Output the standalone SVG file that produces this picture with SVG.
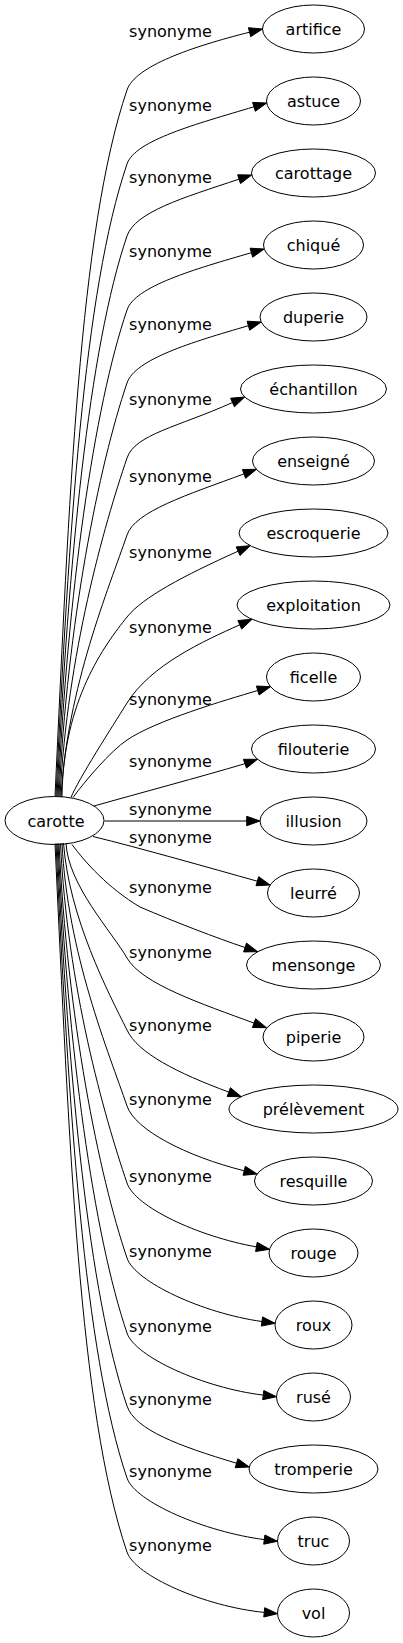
<svg xmlns="http://www.w3.org/2000/svg" width="403" height="1643" viewBox="0 0 403 1643">
<style>
  .node ellipse { fill: none; stroke: #000; stroke-width: 1; }
  text { font-family: "DejaVu Sans", "Liberation Sans", sans-serif; font-size: 16px; fill: #000; text-anchor: middle; }
  .edge path { fill: none; stroke: #000; stroke-width: 1; }
  .edge polygon { fill: #000; stroke: #000; stroke-width: 1; }
</style>
<rect width="403" height="1643" fill="#fff"/>
<g id="edges">
  <g class="edge" id="e-artifice"><path d="M55,796.5 C69.1,499.8 79,231.3 127,90 C135,66.3 191.4,46.8 249.6,32.2"/><polygon points="250.7,36.7 262.5,29 248.4,27.7"/><text x="170.5" y="37">synonyme</text></g>
  <g class="edge" id="e-astuce"><path d="M56,796.5 C68.7,530.8 84,290.5 127,164 C135,140.3 196.4,124 253.9,106.8"/><polygon points="255.3,111.3 266.7,103 252.6,102.4"/><text x="170.5" y="111">synonyme</text></g>
  <g class="edge" id="e-carottage"><path d="M57,796.5 C68.2,561.1 88.9,348.1 127,236 C135,212.3 182,198 239,179.2"/><polygon points="240.5,183.6 251.7,175 237.6,174.8"/><text x="170.5" y="183">synonyme</text></g>
  <g class="edge" id="e-chique"><path d="M58,796.5 C67.7,592.2 93.9,407.3 127,310 C135,286.3 193.8,269.4 251.4,252.7"/><polygon points="252.7,257.2 264.2,249 250.1,248.2"/><text x="170.5" y="257">synonyme</text></g>
  <g class="edge" id="e-duperie"><path d="M59,796.5 C67.3,622.8 98.9,465.7 127,383 C135,359.3 190.8,342.4 248.4,325.7"/><polygon points="249.7,330.2 261.2,322 247.1,321.2"/><text x="170.5" y="330">synonyme</text></g>
  <g class="edge" id="e-echantillon"><path d="M60,796.5 C67.3,654.3 104,525.7 127,458 C135,434.3 177.8,427.1 232.5,402.5"/><polygon points="234.4,406.8 244.7,397 230.6,398.2"/><text x="170.5" y="405">synonyme</text></g>
  <g class="edge" id="e-enseigne"><path d="M61,797 C67.2,687 109.2,587.4 127,535 C135,511.3 187.7,494.7 244,473.9"/><polygon points="245.6,478.3 256.5,469.3 242.4,469.5"/><text x="170.5" y="482">synonyme</text></g>
  <g class="edge" id="e-escroquerie"><path d="M62,797 C63,700 105.3,644.3 127,617 C142.5,597.5 183.4,575.8 238.1,551.2"/><polygon points="240,555.5 250.3,545.7 236.2,546.9"/><text x="170.5" y="558">synonyme</text></g>
  <g class="edge" id="e-exploitation"><path d="M71,797.4 C78,780 112,727 127,703 C150.9,664.8 203.3,641.2 239.8,624.8"/><polygon points="241.7,629.1 252,619.3 237.9,620.5"/><text x="170.5" y="633">synonyme</text></g>
  <g class="edge" id="e-ficelle"><path d="M73,797.5 C85,781 110.4,751.2 127,740 C156,720.4 224.2,700.5 257.7,690.5"/><polygon points="259.1,695 270.5,686.7 256.4,686"/><text x="170.5" y="704.5">synonyme</text></g>
  <g class="edge" id="e-filouterie"><path d="M94,806 C140,793 200,777 244.9,763.7"/><polygon points="246.5,768.1 257.5,759.3 243.4,759.3"/><text x="170.5" y="766.5">synonyme</text></g>
  <g class="edge" id="e-illusion"><path d="M104.5,821 L246.7,821"/><polygon points="246.7,825.7 260,821 246.7,816.3"/><text x="170.5" y="814.5">synonyme</text></g>
  <g class="edge" id="e-leurre"><path d="M93,836.5 C140,848 210,868 257.3,881.2"/><polygon points="256,885.7 270.1,885 258.7,876.7"/><text x="170.5" y="842.5">synonyme</text></g>
  <g class="edge" id="e-mensonge"><path d="M72,844.5 C85,862 108,888 140,907 C175,922 216.5,938 245,947.5"/><polygon points="243.6,951.9 257.7,951.7 246.5,943.1"/><text x="170.5" y="893">synonyme</text></g>
  <g class="edge" id="e-piperie"><path d="M66,843 C68,885 112,931.9 127,958 C142,984.1 202.4,1004 254,1023.1"/><polygon points="252.4,1027.5 266.5,1027.7 255.6,1018.7"/><text x="170.5" y="957.5">synonyme</text></g>
  <g class="edge" id="e-prelevement"><path d="M63.5,843 C69.1,917.8 108.3,992.6 127,1030 C137.5,1052.8 177.2,1073 228.8,1092.1"/><polygon points="227.2,1096.5 241.3,1096.7 230.4,1087.7"/><text x="170.5" y="1031">synonyme</text></g>
  <g class="edge" id="e-resquille"><path d="M62,843 C67.3,953.5 109.1,1053.4 127,1106 C135,1129.8 186,1156.2 244.2,1170.8"/><polygon points="243.1,1175.3 257.1,1174 245.3,1166.3"/><text x="170.5" y="1105">synonyme</text></g>
  <g class="edge" id="e-rouge"><path d="M60.5,843.5 C67.3,986.1 103.9,1115.1 127,1183 C135,1206.8 197.4,1236.3 256.4,1246.9"/><polygon points="255.6,1251.5 269.5,1249.3 257.2,1242.3"/><text x="170.5" y="1182">synonyme</text></g>
  <g class="edge" id="e-roux"><path d="M59,843.5 C67.3,1017.6 98.8,1175.1 127,1258 C135,1281.8 202.5,1313.2 261.9,1321.5"/><polygon points="261.3,1326.1 275.1,1323.3 262.6,1316.9"/><text x="170.5" y="1257">synonyme</text></g>
  <g class="edge" id="e-ruse"><path d="M58,843.5 C67.8,1049.1 93.7,1235.1 127,1333 C135,1356.8 203.7,1388 263.3,1395.1"/><polygon points="262.7,1399.7 276.5,1396.7 263.8,1390.5"/><text x="170.5" y="1332">synonyme</text></g>
  <g class="edge" id="e-tromperie"><path d="M57,843.5 C68.3,1079.8 88.7,1293.5 127,1406 C135,1429.8 179,1446 236.5,1463.2"/><polygon points="235.2,1467.7 249.3,1467 237.9,1458.7"/><text x="170.5" y="1405">synonyme</text></g>
  <g class="edge" id="e-truc"><path d="M56,843.5 C68.7,1110 83.9,1351.1 127,1478 C135,1501.8 204.8,1531.9 264.3,1539.6"/><polygon points="263.7,1544.2 277.5,1541.3 264.9,1535"/><text x="170.5" y="1477">synonyme</text></g>
  <g class="edge" id="e-vol"><path d="M55,843.5 C69.2,1141.1 78.8,1410.3 127,1552 C135,1575.8 204.5,1606.4 264.2,1612.4"/><polygon points="263.8,1617 277.5,1613.7 264.7,1607.7"/><text x="170.5" y="1551">synonyme</text></g>
</g>
<g class="node" id="node-carotte"><ellipse cx="54.5" cy="820.5" rx="49.5" ry="24"/><text x="56" y="826.5">carotte</text></g>
<g class="node" id="node-artifice"><ellipse cx="313.5" cy="29" rx="51" ry="24"/><text x="313.5" y="34.5">artifice</text></g>
<g class="node" id="node-astuce"><ellipse cx="313.5" cy="101" rx="47" ry="24"/><text x="313.5" y="106.5">astuce</text></g>
<g class="node" id="node-carottage"><ellipse cx="313.5" cy="173" rx="62" ry="24"/><text x="313.5" y="178.5">carottage</text></g>
<g class="node" id="node-chique"><ellipse cx="313.5" cy="245" rx="50" ry="24"/><text x="313.5" y="250.5">chiqué</text></g>
<g class="node" id="node-duperie"><ellipse cx="313.5" cy="317" rx="53.5" ry="24"/><text x="313.5" y="322.5">duperie</text></g>
<g class="node" id="node-echantillon"><ellipse cx="313.5" cy="389" rx="73" ry="24"/><text x="313.5" y="394.5">échantillon</text></g>
<g class="node" id="node-enseigne"><ellipse cx="313.5" cy="461" rx="61" ry="24"/><text x="313.5" y="466.5">enseigné</text></g>
<g class="node" id="node-escroquerie"><ellipse cx="313.5" cy="533" rx="74.5" ry="24"/><text x="313.5" y="538.5">escroquerie</text></g>
<g class="node" id="node-exploitation"><ellipse cx="313.5" cy="605" rx="76.5" ry="24"/><text x="313.5" y="610.5">exploitation</text></g>
<g class="node" id="node-ficelle"><ellipse cx="313.5" cy="677" rx="47" ry="24"/><text x="313.5" y="682.5">ficelle</text></g>
<g class="node" id="node-filouterie"><ellipse cx="313.5" cy="749" rx="62" ry="24"/><text x="313.5" y="754.5">filouterie</text></g>
<g class="node" id="node-illusion"><ellipse cx="313.5" cy="821" rx="53.5" ry="24"/><text x="313.5" y="826.5">illusion</text></g>
<g class="node" id="node-leurre"><ellipse cx="313.5" cy="893" rx="46" ry="24"/><text x="313.5" y="898.5">leurré</text></g>
<g class="node" id="node-mensonge"><ellipse cx="313.5" cy="965" rx="67" ry="24"/><text x="313.5" y="970.5">mensonge</text></g>
<g class="node" id="node-piperie"><ellipse cx="313.5" cy="1037" rx="50.5" ry="24"/><text x="313.5" y="1042.5">piperie</text></g>
<g class="node" id="node-prelevement"><ellipse cx="313.5" cy="1109" rx="84.5" ry="24"/><text x="313.5" y="1114.5">prélèvement</text></g>
<g class="node" id="node-resquille"><ellipse cx="313.5" cy="1181" rx="59" ry="24"/><text x="313.5" y="1186.5">resquille</text></g>
<g class="node" id="node-rouge"><ellipse cx="313.5" cy="1253" rx="44.5" ry="24"/><text x="313.5" y="1258.5">rouge</text></g>
<g class="node" id="node-roux"><ellipse cx="313.5" cy="1325" rx="38.5" ry="24"/><text x="313.5" y="1330.5">roux</text></g>
<g class="node" id="node-ruse"><ellipse cx="313.5" cy="1397" rx="37" ry="24"/><text x="313.5" y="1402.5">rusé</text></g>
<g class="node" id="node-tromperie"><ellipse cx="313.5" cy="1469" rx="64.5" ry="24"/><text x="313.5" y="1474.5">tromperie</text></g>
<g class="node" id="node-truc"><ellipse cx="313.5" cy="1541" rx="36" ry="24"/><text x="313.5" y="1546.5">truc</text></g>
<g class="node" id="node-vol"><ellipse cx="313.5" cy="1613" rx="36" ry="24"/><text x="313.5" y="1618.5">vol</text></g>
</svg>
